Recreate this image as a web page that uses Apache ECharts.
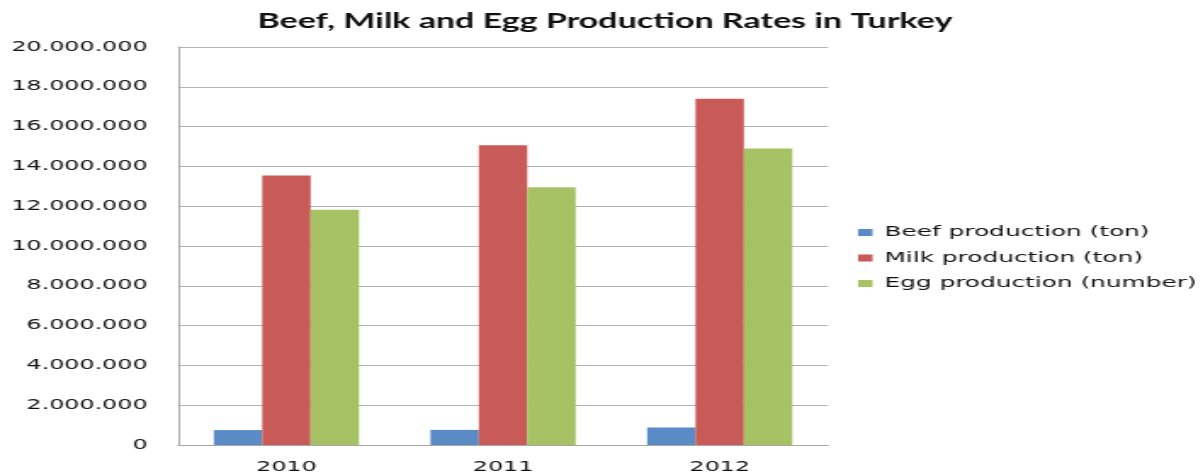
<!DOCTYPE html>
<html>
<head>
<meta charset="utf-8">
<script src="https://cdn.jsdelivr.net/npm/echarts@6/dist/echarts.min.js"></script>
<style>
html,body{margin:0;padding:0;background:#fff;overflow:hidden;width:1203px;height:476px;}
#wrap{width:708px;height:476px;transform:scaleX(1.6992);transform-origin:0 0;}
</style>
</head>
<body>
<div id="wrap"></div>
<script>
const titleText = 'Beef, Milk and Egg Production Rates in Turkey';
const categories = ['2010', '2011', '2012'];
const seriesNames = ['Beef production (ton)', 'Milk production (ton)', 'Egg production (number)'];
const beef = [750000, 760000, 880000];
const milk = [13540000, 15060000, 17400000];
const egg = [11820000, 12950000, 14900000];
const colors = ['#5B8BC6', '#C85A57', '#A6C264'];
const yMin = 0, yMax = 20000000, yStep = 2000000;

function fmt(v){ return String(Math.round(v)).replace(/\B(?=(\d{3})+(?!\d))/g, '.'); }

const chart = echarts.init(document.getElementById('wrap'), null, {renderer:'canvas'});
const data = [beef, milk, egg];
chart.setOption({
  animation: false,
  backgroundColor: '#fff',
  title: {
    text: titleText, left: 351, top: 6, textAlign: 'center',
    textStyle: {fontFamily: 'Lato', fontWeight: 'bold', fontSize: 20, color: '#111', lineHeight: 22}
  },
  legend: {
    orient: 'vertical', left: 505, top: 225, padding: 0,
    itemWidth: 8.5, itemHeight: 7, itemGap: 10.5,
    icon: 'rect',
    textStyle: {fontFamily: 'DejaVu Sans', fontSize: 14.6, color: '#111', lineHeight: 14, padding: [0,0,0,2]},
    data: seriesNames
  },
  grid: {left: 104.8, right: 220.7, top: 47, bottom: 31, containLabel: false},
  xAxis: {
    type: 'category', data: categories,
    axisLine: {lineStyle: {color: '#a6a6a6', width: 1}},
    axisTick: {show: false},
    axisLabel: {fontFamily: 'DejaVu Sans', fontSize: 14, color: '#111', margin: 15}
  },
  yAxis: {
    type: 'value', min: yMin, max: yMax, interval: yStep,
    axisLine: {show: true, lineStyle: {color: '#a6a6a6', width: 1}},
    axisTick: {show: false},
    splitLine: {lineStyle: {color: '#b3b3b3', width: 1}},
    axisLabel: {fontFamily: 'DejaVu Sans', fontSize: 14, color: '#111', margin: 18, formatter: fmt}
  },
  series: seriesNames.map((n, i) => ({
    name: n, type: 'bar', data: data[i],
    barGap: '0%', barCategoryGap: '33%',
    itemStyle: {color: colors[i]}
  }))
});
</script>
</body>
</html>
